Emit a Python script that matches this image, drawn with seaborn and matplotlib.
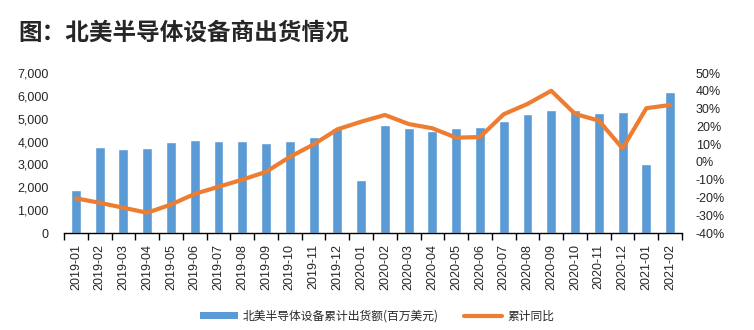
import numpy as np
import pandas as pd
import matplotlib
matplotlib.use("Agg")
import matplotlib.pyplot as plt
import seaborn as sns
from matplotlib.patches import Patch
from matplotlib.lines import Line2D

months = ["2019-01","2019-02","2019-03","2019-04","2019-05","2019-06","2019-07","2019-08",
          "2019-09","2019-10","2019-11","2019-12","2020-01","2020-02","2020-03","2020-04",
          "2020-05","2020-06","2020-07","2020-08","2020-09","2020-10","2020-11","2020-12",
          "2021-01","2021-02"]
shipments = [1880, 3760, 3670, 3720, 3980, 4070, 4025, 4025,
             3940, 4025, 4200, 4590, 2320, 4720, 4600, 4460,
             4590, 4640, 4900, 5200, 5380, 5380, 5250, 5290,
             3020, 6170]
yoy = [-20.5, -23.0, -25.8, -28.6, -24.0, -18.0, -14.0, -10.0,
       -5.6, 2.8, 9.8, 18.3, 22.6, 26.4, 21.3, 18.9,
       13.6, 14.0, 26.8, 32.6, 40.0, 27.0, 23.2, 7.6,
       30.2, 32.0]
bar_label = "北美半导体设备累计出货额(百万美元)"
line_label = "累计同比"
title = "图：北美半导体设备商出货情况"

sns.set_theme(style="white")
plt.rcParams['font.family'] = ['Noto Sans CJK SC', 'DejaVu Sans']

df = pd.DataFrame({"month": months, "ship": shipments, "yoy": yoy, "pos": np.arange(len(months))})

tick_font = ['Liberation Sans', 'DejaVu Sans']
fig = plt.figure(figsize=(7.54, 3.30), dpi=100)
ax = fig.add_axes([64/754, 1-233/330, (682-64)/754, 160/330])
blue = "#5B9BD5"
orange = "#ED7D31"
sns.barplot(data=df, x="month", y="ship", color=blue, width=0.42, ax=ax, saturation=1)
ax.set_ylim(0, 7000)
ax.set_xlim(-0.5, len(months)-0.5)
ax.set_yticks(np.arange(0, 7001, 1000))
ax.set_yticklabels([f"{v:,}" for v in range(0, 7001, 1000)], fontsize=9, family=tick_font)
ax.set_xticks(np.arange(len(months)))
ax.set_xticklabels(months, rotation=90, fontsize=9, family=tick_font)
ax.set_xticks(np.arange(-0.5, len(months), 1), minor=True)
ax.tick_params(axis='x', which='major', length=0, pad=8)
ax.tick_params(axis='x', which='minor', length=5, width=1, color='black', direction='out', bottom=True)
ax.tick_params(axis='y', length=0, pad=11)
ax.set_xlabel("")
ax.set_ylabel("")
for s in ["left", "right", "top"]:
    ax.spines[s].set_visible(False)
ax.spines["bottom"].set_color("black")
ax.spines["bottom"].set_linewidth(1)

ax2 = ax.twinx()
sns.lineplot(data=df, x="pos", y="yoy", color=orange, linewidth=3, ax=ax2)
ax2.set_ylim(-40, 50)
ax2.set_yticks(np.arange(-40, 51, 10))
ax2.set_yticklabels([f"{v}%" for v in range(-40, 51, 10)], fontsize=9, family=tick_font)
ax2.tick_params(axis='y', length=0, pad=10)
ax2.set_ylabel("")
ax2.set_xlabel("")
for s in ["left", "right", "top", "bottom"]:
    ax2.spines[s].set_visible(False)
ax2.set_xlim(-0.5, len(months)-0.5)

fig.text(18/754, 1-33/330, title, fontsize=17, fontweight='bold', va='center', ha='left')

handles = [Patch(facecolor=blue, edgecolor='none'), Line2D([0], [0], color=orange, linewidth=3)]
fig.legend(handles, [bar_label, line_label], loc='center', bbox_to_anchor=(0.5, 1-316/330),
           ncol=2, frameon=False, fontsize=8.5, handlelength=3.2, handleheight=0.5,
           handletextpad=0.4, columnspacing=2.2)

fig.savefig("out.png", dpi=100)
